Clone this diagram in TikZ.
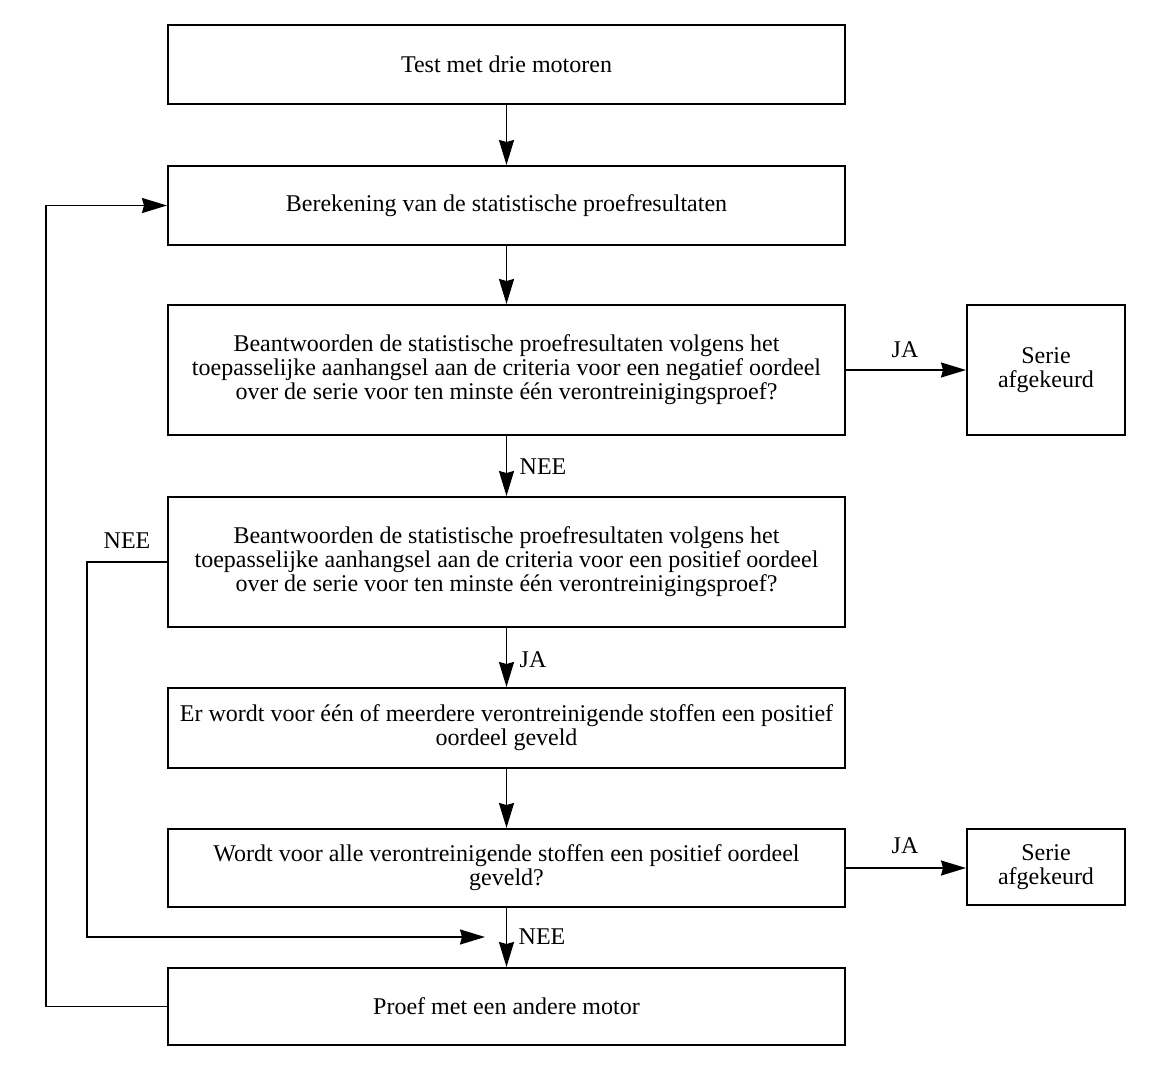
\documentclass[tikz,border=0pt]{standalone}
\usepackage{fontspec}
\setmainfont{Liberation Serif}
\usetikzlibrary{arrows.meta}
\begin{document}
\begin{tikzpicture}[x=1pt,y=-1pt,
  box/.style={draw, line width=2pt, minimum width=677pt, align=center,
    font=\fontsize{24}{24}\selectfont, inner sep=0pt},
  rbox/.style={draw, line width=2pt, minimum width=158pt, align=center,
    font=\fontsize{24}{24}\selectfont, inner sep=0pt},
  lbl/.style={font=\fontsize{24}{24}\selectfont, inner sep=0pt},
  arr/.style={line width=1.8pt, -{Stealth[length=25pt,width=15pt,inset=2pt]}},
  ln/.style={line width=1.8pt}]
\useasboundingbox (0,0) rectangle (1153,1076);

\node[box, minimum height=79pt] (b1) at (506.5,64.5) {Test met drie motoren};
\node[box, minimum height=79pt] (b2) at (506.5,205.5) {Berekening van de statistische proefresultaten};
\node[box, minimum height=130pt] (b3) at (506.5,370) {Beantwoorden de statistische proefresultaten volgens het\\toepasselijke aanhangsel aan de criteria voor een negatief oordeel\\over de serie voor ten minste één verontreinigingsproef?};
\node[box, minimum height=130pt] (b4) at (506.5,562) {Beantwoorden de statistische proefresultaten volgens het\\toepasselijke aanhangsel aan de criteria voor een positief oordeel\\over de serie voor ten minste één verontreinigingsproef?};
\node[box, minimum height=80pt] (b5) at (506.5,728) {Er wordt voor één of meerdere verontreinigende stoffen een positief\\oordeel geveld};
\node[box, minimum height=78pt] (b6) at (506.5,868) {Wordt voor alle verontreinigende stoffen een positief oordeel\\geveld?};
\node[box, minimum height=77pt] (b7) at (506.5,1006.5) {Proef met een andere motor};

\node[rbox, minimum height=130pt] (r1) at (1046,370) {Serie\\afgekeurd};
\node[rbox, minimum height=76pt] (r2) at (1046,867) {Serie\\afgekeurd};

\draw[arr] (b1) -- (b2);
\draw[arr] (b2) -- (b3);
\draw[arr] (b3) -- (b4);
\draw[arr] (b4) -- (b5);
\draw[arr] (b5) -- (b6);
\draw[arr] (b6) -- (b7);
\draw[arr] (b3.east) -- (r1.west);
\draw[arr] (b6.east) -- (r2.west |- b6.east);

\draw[arr] (b7.west) -- ++(-121,0) |- (b2.west);
\coordinate (m) at (485,937);
\draw[arr] (b4.west) -- ++(-80,0) |- (m);

\node[lbl] (l1) at (543,467) {NEE};
\node[lbl] (l2) at (533,660) {JA};
\node[lbl] (l3) at (542,937) {NEE};
\node[lbl] (l4) at (127,541) {NEE};
\node[lbl] (l5) at (905,350) {JA};
\node[lbl] (l6) at (905,846) {JA};
\end{tikzpicture}
\end{document}
